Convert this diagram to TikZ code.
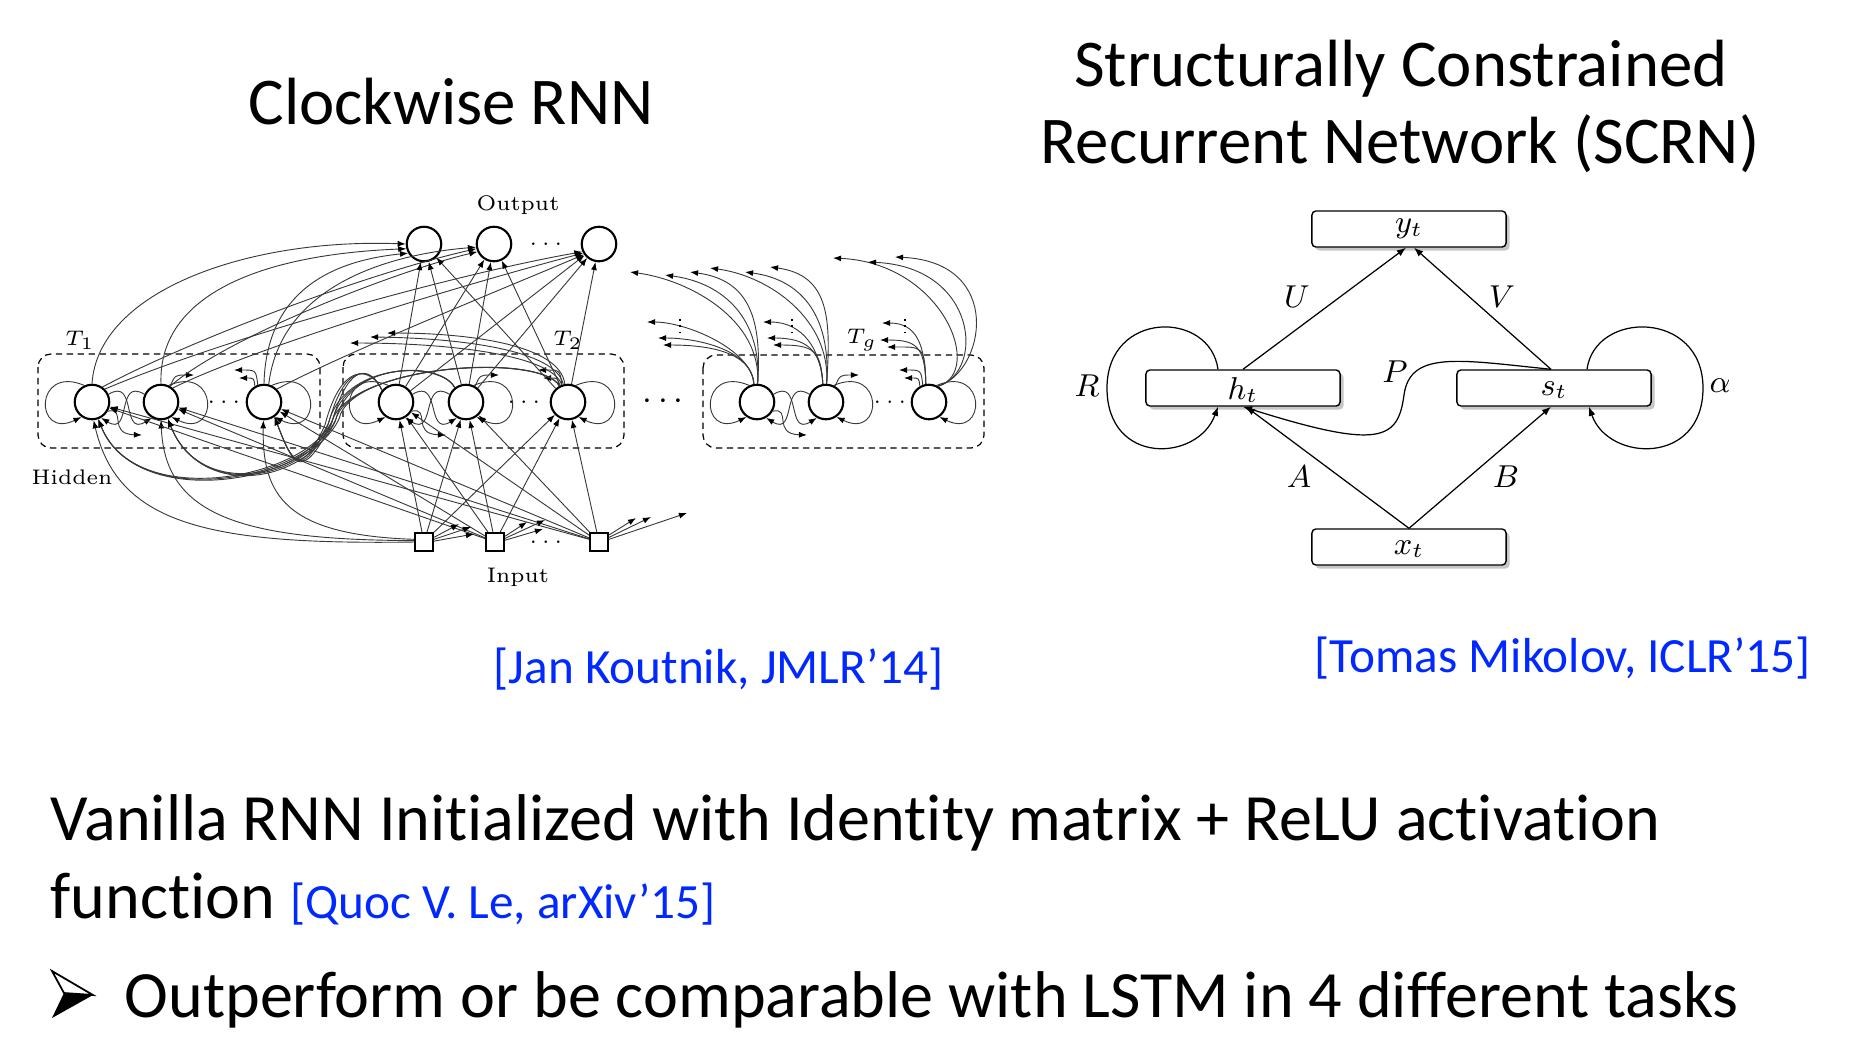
\documentclass[tikz,border=0pt]{standalone}
\usepackage{fontspec}
\newfontfamily\calibri[Ligatures=NoCommon]{Carlito}
\usetikzlibrary{arrows.meta,shadows,calc}
\definecolor{citeblue}{RGB}{0,40,255}
\begin{document}
\begin{tikzpicture}[x=0.01cm,y=-0.01cm,
  neuron/.style={circle,draw,line width=0.6pt,minimum size=0.345cm,inner sep=0pt},
  inbox/.style={rectangle,draw,line width=0.6pt,minimum size=0.18cm,inner sep=0pt},
  cwedge/.style={-{Latex[length=2.3pt,width=1.7pt,color=black]},line width=0.26pt,draw=black!78},
  grpbox/.style={draw,line width=0.35pt,dash pattern=on 1.8pt off 1.3pt,rounded corners=0.13cm},
  cwlab/.style={font=\fontsize{6}{7}\selectfont,inner sep=0pt},
  cwmath/.style={font=\fontsize{6.5}{7}\selectfont,inner sep=0pt},
  scbox/.style={draw,line width=0.4pt,rounded corners=0.04cm,minimum width=1.94cm,minimum height=0.36cm,inner sep=0pt,fill=white,drop shadow={shadow xshift=0.035cm,shadow yshift=-0.035cm,opacity=0.45}},
  scedge/.style={-{Latex[length=2.6pt,width=2pt]},line width=0.35pt},
  sclab/.style={font=\fontsize{9}{10}\selectfont,inner sep=0pt},
  titletext/.style={font=\calibri\fontsize{19}{23}\selectfont,inner sep=0pt},
  bodytext/.style={font=\calibri\fontsize{18.8}{23}\selectfont,inner sep=0pt},
  citetext/.style={font=\calibri\fontsize{14}{17}\selectfont,text=citeblue,inner sep=0pt},
]
\useasboundingbox (0,0) rectangle (1856,1044);

% ---------- titles and text ----------
\node[titletext,anchor=base] (t1) at (451,124) {Clockwise RNN};
\node[titletext,anchor=base] (t2a) at (1401,86) {Structurally Constrained};
\node[titletext,anchor=base] (t2b) at (1400,163) {Recurrent Network (SCRN)};
\node[citetext,anchor=base west] (c1) at (493,683) {[Jan Koutnik, JMLR’14]};
\node[citetext,anchor=base west] (c2) at (1314,672) {[Tomas Mikolov, ICLR’15]};
\node[bodytext,anchor=base west] (l1) at (50,840) {Vanilla RNN Initialized with Identity matrix + ReLU activation};
\node[bodytext,anchor=base west] (l2) at (50,918) {function {\fontsize{14}{17}\selectfont\color{citeblue}[Quoc V. Le, arXiv’15]}};
\node[bodytext,anchor=base west] (l3) at (124,1017) {Outperform or be comparable with LSTM in 4 different tasks};
% bullet arrowhead
\draw[line width=0.5pt,line join=miter] (52,971) -- (93,995) -- (64,993) -- cycle;
\fill (64,993) -- (93,995) -- (52,1018) -- cycle;

% ---------- Clockwise RNN ----------
\draw[grpbox] (38,354) rectangle (320,448);
\draw[grpbox] (343,354) rectangle (624,448);
\draw[grpbox] (703,355) rectangle (984,448);

\node[neuron] (O1) at (424,244) {};
\node[neuron] (O2) at (494,244) {};
\node[neuron] (O3) at (599,244) {};
\node[neuron] (H1) at (92,402) {};
\node[neuron] (H2) at (161,402) {};
\node[neuron] (H3) at (264,402) {};
\node[neuron] (H4) at (396,402) {};
\node[neuron] (H5) at (466,402) {};
\node[neuron] (H6) at (568,402) {};
\node[neuron] (H7) at (757,402) {};
\node[neuron] (H8) at (826,402) {};
\node[neuron] (H9) at (929,402) {};
\node[inbox] (I1) at (424,542) {};
\node[inbox] (I2) at (495,542) {};
\node[inbox] (I3) at (599,542) {};

\node[cwlab] (lout) at (518,205) {Output};
\node[cwlab] (lhid) at (72,477) {Hidden};
\node[cwlab] (lin) at (518,577) {Input};
\node[cwmath] (lT1) at (80,340) {$T_1$};
\node[cwmath] (lT2) at (568,340) {$T_2$};
\node[cwmath] (lTg) at (862,340) {$T_g$};
\node[cwmath] (d1) at (224,402) {$\cdots$};
\node[cwmath] (d2) at (524,402) {$\cdots$};
\node[cwmath] (d3) at (890,402) {$\cdots$};
\node[cwmath] (dO) at (546,244) {$\cdots$};
\node[cwmath] (dI) at (546,542) {$\cdots$};
\node[font=\fontsize{10}{11}\selectfont,inner sep=0pt] (dG) at (663,402) {$\cdots$};

% within-group connections
\foreach \a/\b/\c in {H1/H2/H3,H4/H5/H6,H7/H8/H9}{
  \draw[cwedge] (\a.115) .. controls ($(\a)+(-58,-38)$) and ($(\a)+(-58,38)$) .. (\a.235);
  \draw[cwedge] (\b.65) .. controls ($(\b)+(58,-38)$) and ($(\b)+(58,38)$) .. (\b.305);
  \draw[cwedge] (\c.65) .. controls ($(\c)+(58,-38)$) and ($(\c)+(58,38)$) .. (\c.305);
  \draw[cwedge] (\a.25) .. controls ($(\a)+(45,-25)$) and ($(\b)+(-40,35)$) .. (\b.240);
  \draw[cwedge] (\b.155) .. controls ($(\b)+(-45,-25)$) and ($(\a)+(40,35)$) .. (\a.300);
  \draw[cwedge] (\a.330) .. controls ($(\a)+(35,5)$) and ($(\a)+(15,32)$) .. ($(\a)+(50,33)$);
  \draw[cwedge] (\b.60) .. controls ($(\b)+(14,-27)$) .. ($(\b)+(33,-27)$);
  \draw[cwedge] (\c.110) .. controls ($(\c)+(-8,-32)$) .. ($(\c)+(-30,-32)$);
  \draw[cwedge] (\c.120) .. controls ($(\c)+(-10,-24)$) .. ($(\c)+(-25,-24)$);
}

% T1 -> outputs
\draw[cwedge] (H1.north) .. controls (98,290) and (250,238) .. (O1.180);
\draw[cwedge] (H1.55) .. controls (180,345) and (360,275) .. (O2.195);
\draw[cwedge] (H1.45) .. controls (220,340) and (450,275) .. (O3.205);
\draw[cwedge] (H2.north) .. controls (158,300) and (250,255) .. (O1.195);
\draw[cwedge] (H2.60) .. controls (230,335) and (400,270) .. (O2.205);
\draw[cwedge] (H2.50) .. controls (260,345) and (480,280) .. (O3.210);
\draw[cwedge] (H3.north) .. controls (266,300) and (320,262) .. (O1.210);
\draw[cwedge] (H3.75) .. controls (280,290) and (380,255) .. (O2.190);
\draw[cwedge] (H3.45) .. controls (340,355) and (500,290) .. (O3.215);

% T2 -> outputs, inputs -> T2
\foreach \h in {H4,H5,H6}{\foreach \o in {O1,O2,O3}{\draw[cwedge] (\h) -- (\o);}}
\foreach \i in {I1,I2,I3}{\foreach \h in {H4,H5,H6}{\draw[cwedge] (\i) -- (\h);}}

% inputs -> T1
\draw[cwedge] (I1.180) .. controls (210,545) and (118,525) .. (H1.275);
\draw[cwedge] (I1.172) .. controls (240,540) and (165,515) .. (H2.270);
\draw[cwedge] (I1.165) .. controls (285,535) and (262,495) .. (H3.268);
\foreach \i in {I2,I3}{\foreach \h in {H1,H2,H3}{\draw[cwedge] (\i) -- (\h);}}

% truncated input arrows
\draw[cwedge] (I1.25) -- (459,524);
\draw[cwedge] (I1.15) -- (471,527);
\draw[cwedge] (I1.5) -- (474,534);
\draw[cwedge] (I2.30) -- (527,522);
\draw[cwedge] (I2.20) -- (545,520);
\draw[cwedge] (I2.10) -- (543,529);
\draw[cwedge] (I3.35) -- (636,518);
\draw[cwedge] (I3.25) -- (651,517);
\draw[cwedge] (I3.15) -- (687,513);

% T2 -> T1 bundle
\foreach \s/\sa/\px/\py [count=\i] in {H4/140/372/368,H5/128/440/360,H6/118/540/352}{
  \foreach \t/\ta/\cx/\cy [count=\j] in {H1/290/135/512,H2/292/200/500,H3/305/292/462}{
    \draw[cwedge] (\s.\sa) .. controls (\px,\py) and ({354-4*\j},{356+3*\i}) .. ({334-4*\j+3*\i},{416+3*\j}) .. controls ({312-4*\j},{476+3*\i}) and (\cx,\cy) .. (\t.\ta);
  }
}

% T2 truncated long arrows
\draw[cwedge] (H6.100) .. controls (560,345) and (470,333) .. (387,333);
\draw[cwedge] (H6.105) .. controls (556,350) and (460,338) .. (370,337);
\draw[cwedge] (H6.110) .. controls (552,355) and (450,343) .. (350,343);

% Tg truncated arrows
\foreach \ex/\ey in {630/272,665/275,690/272}{\draw[cwedge] (H7.88) .. controls (762,320) and ({\ex+60},{\ey+8}) .. (\ex,\ey);}
\foreach \ex/\ey in {647/322,658/338,663/345}{\draw[cwedge] (H7.100) .. controls (752,350) and ({\ex+40},{\ey}) .. (\ex,\ey);}
\foreach \ex/\ey in {710/268,745/272,770/267}{\draw[cwedge] (H8.88) .. controls (831,320) and ({\ex+60},{\ey+8}) .. (\ex,\ey);}
\foreach \ex/\ey in {763/322,767/338,773/345}{\draw[cwedge] (H8.100) .. controls (821,350) and ({\ex+40},{\ey}) .. (\ex,\ey);}
\foreach \ex/\ey in {833/258,868/262,895/257}{\draw[cwedge] (H9.60) .. controls (985,372) and ({\ex+110},{\ey+5}) .. (\ex,\ey);}
\foreach \ex/\ey in {882/323,880/340,887/347}{\draw[cwedge] (H9.100) .. controls (925,345) and ({\ex+35},{\ey}) .. (\ex,\ey);}
\foreach \vx in {680,792,905}{\draw[line width=0.4pt,dash pattern=on 0.5pt off 1.3pt] (\vx,319) -- (\vx,333);}

% ---------- SCRN ----------
\node[scbox] (y) at (1409,229) {};
\node[scbox] (h) at (1243,388) {};
\node[scbox] (s) at (1554,388) {};
\node[scbox] (x) at (1409,547) {};
\node[sclab] (ylab) at (1409,229) {$y_t$};
\node[sclab] (hlab) at (1243,390) {$h_t$};
\node[sclab] (slab) at (1554,390) {$s_t$};
\node[sclab] (xlab) at (1409,549) {$x_t$};

\draw[scedge] (h.north) -- ([xshift=-0.03cm]y.south);
\draw[scedge] ([xshift=-0.03cm]s.north) -- ([xshift=0.05cm]y.south);
\draw[scedge] (x.north) -- ([xshift=0.03cm]h.south);
\draw[scedge] (x.north) -- ([xshift=-0.03cm]s.south);
\draw[scedge] ([xshift=-0.03cm]s.north) .. controls (1460,360) and (1410,350) .. (1404,395) .. controls (1398,440) and (1380,450) .. (h.south);
\draw[scedge] ([xshift=-0.25cm]h.north) .. controls (1210,310) and (1107,310) .. (1107,388) .. controls (1107,466) and (1198,462) .. ([xshift=-0.25cm]h.south);
\draw[scedge] ([xshift=0.33cm]s.north) .. controls (1595,310) and (1703,310) .. (1703,388) .. controls (1703,466) and (1608,462) .. ([xshift=0.35cm]s.south);

\node[sclab] (U) at (1297,297) {$U$};
\node[sclab] (V) at (1502,297) {$V$};
\node[sclab] (A) at (1299,477) {$A$};
\node[sclab] (B) at (1506,477) {$B$};
\node[sclab] (P) at (1395,372) {$P$};
\node[sclab] (R) at (1087,386) {$R$};
\node[sclab] (al) at (1720,386) {$\alpha$};
\end{tikzpicture}
\end{document}
